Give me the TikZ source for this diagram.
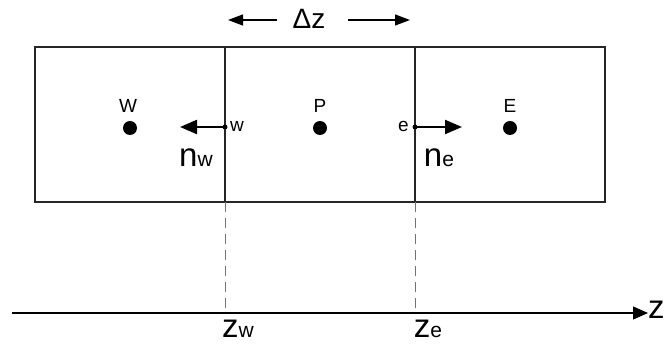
\documentclass[tikz,border=0pt]{standalone}
\usepackage{fontspec}
\setmainfont{Liberation Sans}
\usetikzlibrary{arrows.meta}
\begin{document}
\begin{tikzpicture}[x=1pt,y=-1pt,
  cell/.style={draw=black!85,line width=1.1pt},
  bigdot/.style={circle,fill=black,inner sep=0pt,minimum size=14pt},
  facedot/.style={circle,fill=black,inner sep=0pt,minimum size=5pt},
  lbl/.style={font=\fontsize{19}{19}\selectfont,inner sep=0pt},
  normal/.style={line width=2.2pt,-{Triangle[length=17pt,width=14pt]}},
  dimarrow/.style={line width=1.2pt,-{Triangle[length=15pt,width=11pt]}},
  guide/.style={draw=black!55,line width=0.9pt,dash pattern=on 10pt off 6pt},
  big/.style={font=\fontsize{33}{33}\selectfont,inner sep=0pt}]
\useasboundingbox (0,0) rectangle (664,352);
% cells
\draw[cell] (35,47) rectangle (605,202);
\draw[cell] (225,47) -- (225,202);
\draw[cell] (415,47) -- (415,202);
% nodes
\node[bigdot] (W) at (130,128) {};
\node[bigdot] (P) at (320,128) {};
\node[bigdot] (E) at (510,128) {};
\node[lbl,anchor=south] at (128,113) {W};
\node[lbl,anchor=south] at (320,113) {P};
\node[lbl,anchor=south] at (510,113) {E};
% faces
\node[facedot] (w) at (225,127) {};
\node[facedot] (e) at (415,127) {};
\node[lbl,anchor=west] at (230,126) {w};
\node[lbl,anchor=east] at (409,126) {e};
\coordinate (wn) at (180,127);
\coordinate (en) at (462,127);
\draw[normal] (w.center) -- (wn);
\draw[normal] (e.center) -- (en);
\node[big] at (196,158) {n\fontsize{21}{21}\selectfont w};
\node[big] at (439,158) {n\fontsize{21}{21}\selectfont e};
% delta z
\node[font=\fontsize{28}{28}\selectfont,inner sep=0pt] (dz) at (309,19) {Δz};
\coordinate (dzl) at (228,20);
\coordinate (dzr) at (410,20);
\draw[dimarrow] (277,20) -- (dzl);
\draw[dimarrow] (348,20) -- (dzr);
% axis
\coordinate (ax0) at (12,313);
\coordinate (ax1) at (648,313);
\draw[line width=1.2pt,-{Triangle[length=15pt,width=13pt]}] (ax0) -- (ax1);
\node[big,anchor=west] at (648,310) {z};
\coordinate (zw) at (225,313);
\coordinate (ze) at (415,313);
\draw[guide] (225,202) -- (zw);
\draw[guide] (415,202) -- (ze);
\node[big] at (238,329) {z\fontsize{21}{21}\selectfont w};
\node[big] at (428,329) {z\fontsize{21}{21}\selectfont e};
\end{tikzpicture}
\end{document}
